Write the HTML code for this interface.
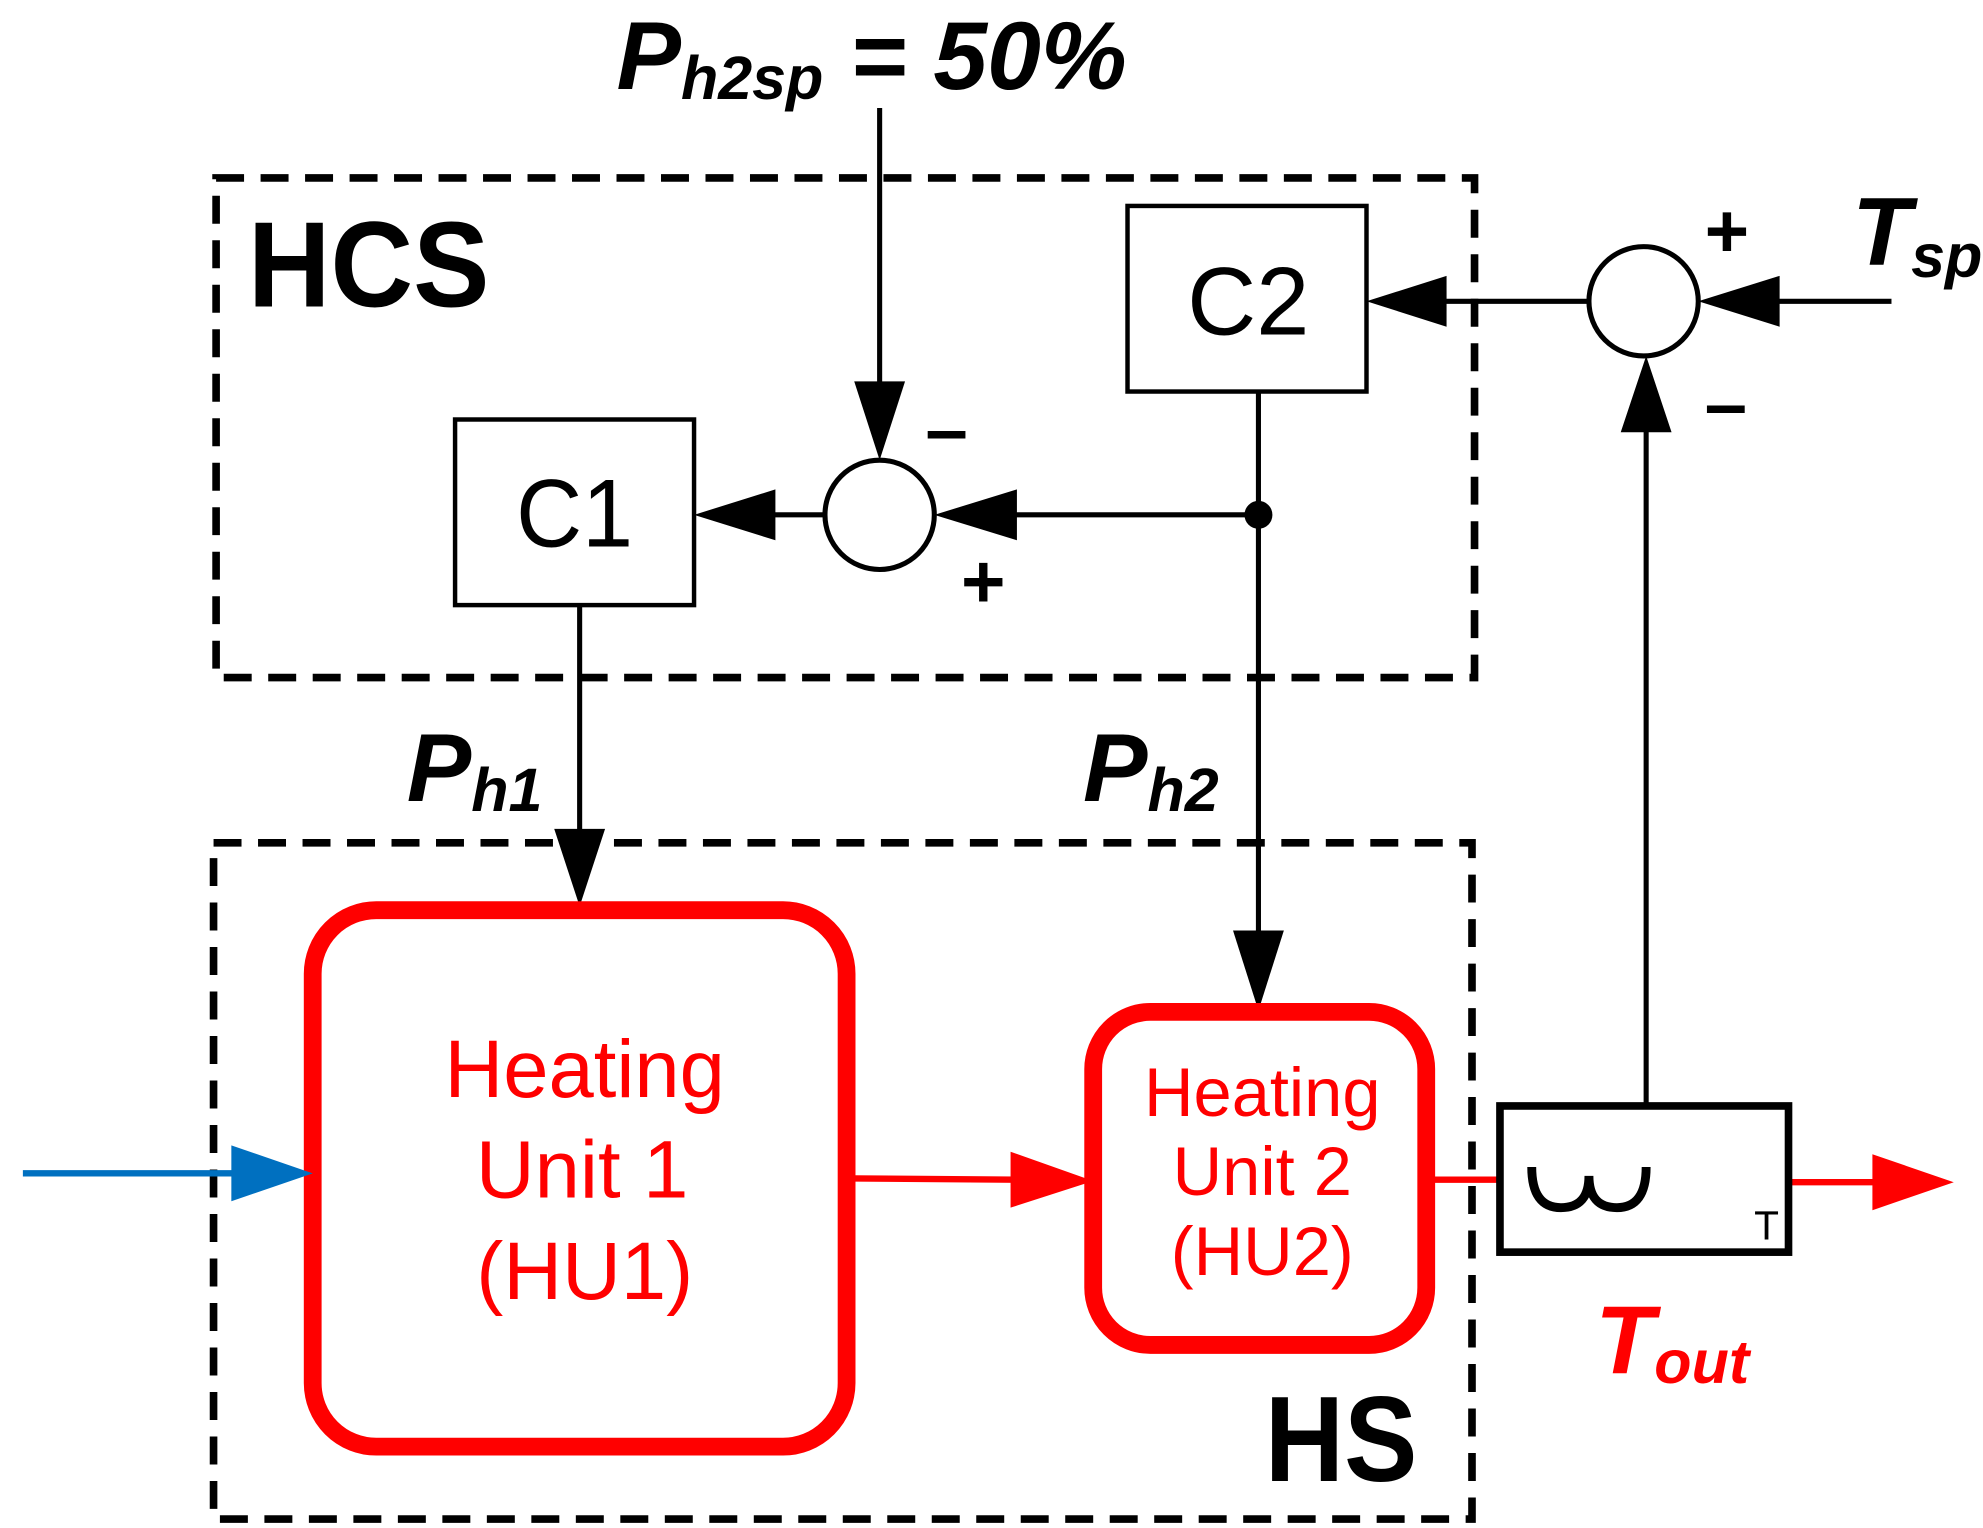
<!DOCTYPE html>
<html><head><style>html,body{margin:0;padding:0;background:#fff}svg{display:block}</style></head>
<body>
<svg width="1983" height="1528" viewBox="0 0 1560 1202" preserveAspectRatio="none" xmlns="http://www.w3.org/2000/svg" font-family="Liberation Sans, Arial, sans-serif">
<rect width="1560" height="1202" fill="#fff"/>
<rect x="170" y="140" width="990" height="393" fill="none" stroke="#000" stroke-width="6" stroke-dasharray="22,13"/>
<rect x="168" y="663" width="990" height="532" fill="none" stroke="#000" stroke-width="6" stroke-dasharray="22,13"/>
<g stroke="#000" stroke-width="4" fill="none">
<line x1="692" y1="85" x2="692" y2="305"/>
<line x1="649" y1="405" x2="605" y2="405"/>
<line x1="990" y1="405" x2="795" y2="405"/>
<line x1="990" y1="308" x2="990" y2="735"/>
<line x1="456" y1="476" x2="456" y2="655"/>
<line x1="1250" y1="237" x2="1135" y2="237"/>
<line x1="1488" y1="237" x2="1395" y2="237"/>
<line x1="1295" y1="868" x2="1295" y2="335"/>
<circle cx="692" cy="405" r="43" stroke-width="4"/>
<circle cx="1293" cy="237" r="43" stroke-width="4"/>
<rect x="358" y="330" width="188" height="146" stroke-width="3.5"/>
<rect x="887" y="162" width="188" height="146" stroke-width="3.5"/>
</g>
<circle cx="990" cy="405" r="11" fill="#000"/>
<g fill="#000">
<polygon points="692,362 672,300 712,300"/>
<polygon points="546,405 610,385 610,425"/>
<polygon points="735,405 800,385 800,425"/>
<polygon points="990,795 970,732 1010,732"/>
<polygon points="456,713 436,652 476,652"/>
<polygon points="1075,237 1138,217 1138,257"/>
<polygon points="1336,237 1400,217 1400,257"/>
<polygon points="1295,280 1275,340 1315,340"/>
</g>
<text x="452" y="430" font-size="76" text-anchor="middle" textLength="92" lengthAdjust="spacingAndGlyphs">C1</text>
<text x="982" y="263" font-size="76" text-anchor="middle" textLength="96" lengthAdjust="spacingAndGlyphs">C2</text>
<text x="195" y="241" font-size="96" font-weight="bold" textLength="190" lengthAdjust="spacingAndGlyphs">HCS</text>
<text x="995" y="1165" font-size="96" font-weight="bold" textLength="120" lengthAdjust="spacingAndGlyphs">HS</text>
<text x="728" y="358" font-size="60" font-weight="bold">–</text>
<text x="756" y="478" font-size="60" font-weight="bold">+</text>
<text x="1341" y="202" font-size="60" font-weight="bold">+</text>
<text x="1341" y="338" font-size="60" font-weight="bold">–</text>
<text x="485" y="70" font-size="76" font-weight="bold" font-style="italic">P<tspan font-size="48" dy="8">h2sp</tspan><tspan dy="-8"> = 50%</tspan></text>
<text x="320" y="630" font-size="76" font-weight="bold" font-style="italic">P<tspan font-size="48" dy="8">h1</tspan></text>
<text x="852" y="630" font-size="76" font-weight="bold" font-style="italic">P<tspan font-size="48" dy="8">h2</tspan></text>
<text x="1457" y="208" font-size="76" font-weight="bold" font-style="italic">T<tspan font-size="48" dy="10">sp</tspan></text>
<text x="1255" y="1080" font-size="76" font-weight="bold" font-style="italic" fill="#f00">T<tspan font-size="48" dy="8">out</tspan></text>
<rect x="246" y="716" width="420" height="422" rx="50" fill="none" stroke="#f00" stroke-width="14"/>
<rect x="860" y="796" width="262" height="262" rx="45" fill="none" stroke="#f00" stroke-width="14"/>
<g fill="#f00" text-anchor="middle">
<text x="460" y="863" font-size="64">Heating</text>
<text x="458" y="942" font-size="64">Unit 1</text>
<text x="460" y="1022" font-size="64">(HU1)</text>
<text x="993" y="878" font-size="54">Heating</text>
<text x="993" y="940" font-size="54">Unit 2</text>
<text x="993" y="1003" font-size="54">(HU2)</text>
</g>
<line x1="18" y1="923" x2="190" y2="923" stroke="#0070c0" stroke-width="5"/>
<polygon points="246,923 182,901 182,945" fill="#0070c0"/>
<g stroke="#f00" stroke-width="5">
<line x1="672" y1="927" x2="800" y2="928"/>
<line x1="1128" y1="928" x2="1180" y2="928"/>
<line x1="1407" y1="930" x2="1478" y2="930"/>
</g>
<polygon points="860,929 795,906 795,950" fill="#f00"/>
<polygon points="1537,930 1473,908 1473,952" fill="#f00"/>
<rect x="1180" y="870" width="227" height="115" fill="#fff" stroke="#000" stroke-width="6"/>
<path d="M1205,918 Q1205,950 1228,950 Q1250,950 1250,925 Q1250,950 1272,950 Q1295,950 1295,918" fill="none" stroke="#000" stroke-width="7"/>
<text x="1380" y="975" font-size="32">T</text>
</svg>
</body></html>
